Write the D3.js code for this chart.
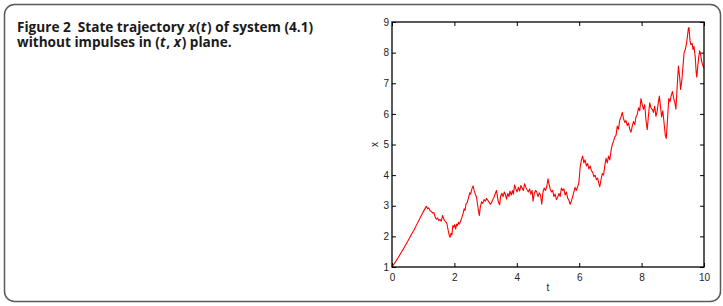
<!DOCTYPE html>
<html>
<head>
<meta charset="utf-8">
<script src="https://cdn.jsdelivr.net/npm/d3@7"></script>
<style>
  body { margin: 0; background: #fff; }
  svg { display: block; }
</style>
</head>
<body>
<div id="chart"></div>
<script>
// ticks on the two axes
var xTicks = [0, 2, 4, 6, 8, 10];
var yTicks = [1, 2, 3, 4, 5, 6, 7, 8, 9];

// caption pieces, [text, italic?]
var captionLine1 = [["Figure 2\u00a0\u00a0State trajectory\u00a0", false], ["x", true], ["(", false], ["t", true], [")\u00a0of system (4.1)", false]];
var captionLine2 = [["without impulses in (", false], ["t", true], [",\u00a0", false], ["x", true], [")\u00a0plane.", false]];

// state trajectory x(t) as [t, x]
var trajectory = [
  [0, 1], [0.1, 1.15], [0.2, 1.31], [0.3, 1.48], [0.4, 1.65], [0.5, 1.83],
  [0.6, 2.02], [0.7, 2.2], [0.8, 2.4], [0.9, 2.6], [1.0, 2.8], [1.1, 2.98],
  [1.14, 2.9], [1.18, 2.93], [1.22, 2.84], [1.26, 2.82], [1.3, 2.76], [1.34, 2.78],
  [1.38, 2.64], [1.42, 2.56], [1.46, 2.6], [1.5, 2.52], [1.54, 2.55], [1.58, 2.5],
  [1.62, 2.68], [1.65, 2.6], [1.68, 2.52], [1.72, 2.48], [1.76, 2.42], [1.8, 2.2],
  [1.83, 2.05], [1.86, 1.97], [1.89, 2.1], [1.92, 2.05], [1.95, 2.35], [1.98, 2.3],
  [2.01, 2.38], [2.04, 2.24], [2.07, 2.4], [2.1, 2.35], [2.13, 2.46], [2.16, 2.4],
  [2.2, 2.5], [2.24, 2.62], [2.28, 2.75], [2.31, 2.9], [2.34, 2.85], [2.37, 3.05],
  [2.41, 3.1], [2.45, 3.25], [2.49, 3.42], [2.52, 3.38], [2.56, 3.55], [2.6, 3.65],
  [2.63, 3.5], [2.67, 3.38], [2.71, 3.28], [2.74, 3.05], [2.77, 2.85], [2.8, 2.68],
  [2.83, 2.95], [2.87, 3.13], [2.91, 3.08], [2.95, 3.2], [2.99, 3.15], [3.03, 3.24],
  [3.07, 3.18], [3.11, 3.12], [3.15, 3.05], [3.19, 3.1], [3.23, 3.2], [3.27, 3.28],
  [3.31, 3.4], [3.35, 3.5], [3.38, 3.3], [3.41, 3.12], [3.45, 3.03], [3.48, 3.3],
  [3.52, 3.41], [3.56, 3.3], [3.6, 3.45], [3.64, 3.35], [3.67, 3.22], [3.71, 3.4],
  [3.75, 3.3], [3.78, 3.48], [3.82, 3.35], [3.86, 3.5], [3.89, 3.38], [3.93, 3.68],
  [3.97, 3.55], [4.01, 3.45], [4.05, 3.6], [4.09, 3.48], [4.13, 3.66], [4.17, 3.58],
  [4.21, 3.5], [4.25, 3.72], [4.29, 3.6], [4.33, 3.52], [4.37, 3.45], [4.41, 3.55],
  [4.45, 3.38], [4.49, 3.5], [4.52, 3.15], [4.56, 3.4], [4.6, 3.5], [4.64, 3.45],
  [4.68, 3.3], [4.72, 3.42], [4.76, 3.35], [4.8, 3.05], [4.84, 3.45], [4.88, 3.58],
  [4.92, 3.5], [4.96, 3.62], [5.0, 3.88], [5.03, 3.72], [5.07, 3.55], [5.11, 3.45],
  [5.15, 3.5], [5.19, 3.3], [5.23, 3.38], [5.27, 3.2], [5.31, 3.28], [5.35, 3.4],
  [5.39, 3.3], [5.43, 3.58], [5.47, 3.5], [5.51, 3.55], [5.55, 3.35], [5.59, 3.45],
  [5.63, 3.25], [5.67, 3.18], [5.71, 3.05], [5.75, 3.15], [5.79, 3.3], [5.83, 3.45],
  [5.87, 3.6], [5.91, 3.5], [5.95, 3.62], [5.99, 3.75], [6.03, 4.25], [6.07, 4.5],
  [6.11, 4.62], [6.15, 4.4], [6.19, 4.5], [6.23, 4.3], [6.27, 4.38], [6.31, 4.2],
  [6.35, 4.3], [6.39, 4.15], [6.43, 4.1], [6.47, 3.95], [6.51, 4.0], [6.55, 3.85],
  [6.59, 3.9], [6.63, 3.72], [6.66, 3.62], [6.7, 3.85], [6.74, 4.05], [6.78, 4.0],
  [6.82, 4.3], [6.86, 4.55], [6.9, 4.4], [6.94, 4.62], [6.98, 4.5], [7.02, 4.8],
  [7.06, 5.0], [7.1, 5.1], [7.14, 5.25], [7.18, 5.3], [7.22, 5.6], [7.26, 5.5],
  [7.3, 5.8], [7.34, 5.9], [7.38, 6.05], [7.42, 5.85], [7.46, 5.72], [7.5, 5.78],
  [7.54, 5.62], [7.58, 5.7], [7.62, 5.5], [7.66, 5.4], [7.7, 5.6], [7.74, 5.75],
  [7.78, 5.65], [7.82, 5.9], [7.86, 5.98], [7.9, 6.2], [7.94, 6.1], [7.98, 6.5],
  [8.02, 6.3], [8.06, 6.15], [8.1, 6.3], [8.14, 5.8], [8.18, 5.48], [8.22, 5.95],
  [8.26, 6.36], [8.3, 6.2], [8.34, 6.15], [8.38, 6.05], [8.42, 6.25], [8.46, 5.92],
  [8.5, 6.1], [8.54, 6.4], [8.57, 6.58], [8.61, 6.2], [8.64, 5.9], [8.68, 6.1],
  [8.72, 5.7], [8.76, 5.3], [8.79, 5.2], [8.83, 5.8], [8.87, 6.5], [8.91, 6.4],
  [8.95, 6.6], [8.99, 6.73], [9.03, 6.5], [9.07, 6.35], [9.1, 6.15], [9.14, 6.9],
  [9.18, 7.56], [9.22, 7.2], [9.25, 6.8], [9.29, 7.1], [9.33, 7.6], [9.36, 7.99],
  [9.4, 8.1], [9.44, 8.3], [9.47, 8.54], [9.5, 8.8], [9.52, 8.82], [9.55, 8.4],
  [9.58, 8.26], [9.62, 8.3], [9.65, 8.1], [9.68, 8.2], [9.72, 7.85], [9.75, 7.35],
  [9.77, 7.2], [9.8, 7.55], [9.83, 7.85], [9.86, 8.06], [9.89, 7.95], [9.93, 7.7],
  [9.97, 7.56], [10.0, 7.5]
];

var W = 723, H = 306;
var plot = { left: 392, right: 704, top: 22, bottom: 267 };

var svg = d3.select("#chart").append("svg")
  .attr("width", W)
  .attr("height", H);

// figure frame
svg.append("rect")
  .attr("x", 4.5).attr("y", 4.5)
  .attr("width", 716).attr("height", 297)
  .attr("rx", 10).attr("ry", 10)
  .attr("fill", "none")
  .attr("stroke", "#5a5a5a")
  .attr("stroke-width", 1.5);

// caption: each piece is its own text, laid out one after another
function captionLine(parts, y) {
  var x = 17;
  parts.forEach(function(d){
    var t = svg.append("text")
      .attr("x", x).attr("y", y)
      .attr("font-family", "'Open Sans', 'Noto Sans', sans-serif")
      .attr("font-weight", "bold")
      .attr("font-size", 13.6)
      .attr("font-style", d[1] ? "italic" : null)
      .attr("fill", "#1a1a1a")
      .text(d[0]);
    x += t.node().getComputedTextLength() + (d[1] ? 0.8 : 0);
  });
}
captionLine(captionLine1, 32);
captionLine(captionLine2, 47);

var xScale = d3.scaleLinear().domain([0, 10]).range([plot.left, plot.right]);
var yScale = d3.scaleLinear().domain([1, 9]).range([plot.bottom, plot.top]);

var tickFont = "'Liberation Sans', Arial, sans-serif";

function styleAxis(g) {
  g.select(".domain").remove();
  g.selectAll(".tick line").attr("stroke", "#000").attr("stroke-width", 1);
  g.selectAll(".tick text").attr("fill", "#222").attr("font-size", 10).attr("font-family", tickFont);
}

svg.append("g")
  .attr("transform", "translate(0," + plot.bottom + ")")
  .call(d3.axisBottom(xScale).tickValues(xTicks).tickSizeInner(-4).tickSizeOuter(0).tickPadding(7))
  .call(styleAxis);
svg.append("g")
  .attr("transform", "translate(0," + plot.top + ")")
  .call(d3.axisTop(xScale).tickValues(xTicks).tickSizeInner(-4).tickSizeOuter(0).tickFormat(""))
  .call(styleAxis);
svg.append("g")
  .attr("transform", "translate(" + plot.left + ",0)")
  .call(d3.axisLeft(yScale).tickValues(yTicks).tickSizeInner(-4).tickSizeOuter(0).tickPadding(3))
  .call(styleAxis);
svg.append("g")
  .attr("transform", "translate(" + plot.right + ",0)")
  .call(d3.axisRight(yScale).tickValues(yTicks).tickSizeInner(-4).tickSizeOuter(0).tickFormat(""))
  .call(styleAxis);

// trajectory
var line = d3.line()
  .x(function(d){ return xScale(d[0]); })
  .y(function(d){ return yScale(d[1]); });

svg.append("path")
  .datum(trajectory)
  .attr("d", line)
  .attr("fill", "none")
  .attr("stroke", "#ff0000")
  .attr("stroke-width", 1.1)
  .attr("stroke-linejoin", "round");

// plot box
svg.append("rect")
  .attr("x", plot.left).attr("y", plot.top)
  .attr("width", plot.right - plot.left)
  .attr("height", plot.bottom - plot.top)
  .attr("fill", "none")
  .attr("stroke", "#000")
  .attr("stroke-width", 1.3);

// axis labels
svg.append("text")
  .attr("x", (plot.left + plot.right) / 2)
  .attr("y", 291)
  .attr("text-anchor", "middle")
  .attr("font-family", tickFont)
  .attr("font-size", 10)
  .attr("fill", "#222")
  .text("t");
svg.append("text")
  .attr("transform", "translate(378," + yScale(5) + ") rotate(-90)")
  .attr("text-anchor", "middle")
  .attr("font-family", tickFont)
  .attr("font-size", 10)
  .attr("fill", "#222")
  .text("x");
</script>
</body>
</html>
